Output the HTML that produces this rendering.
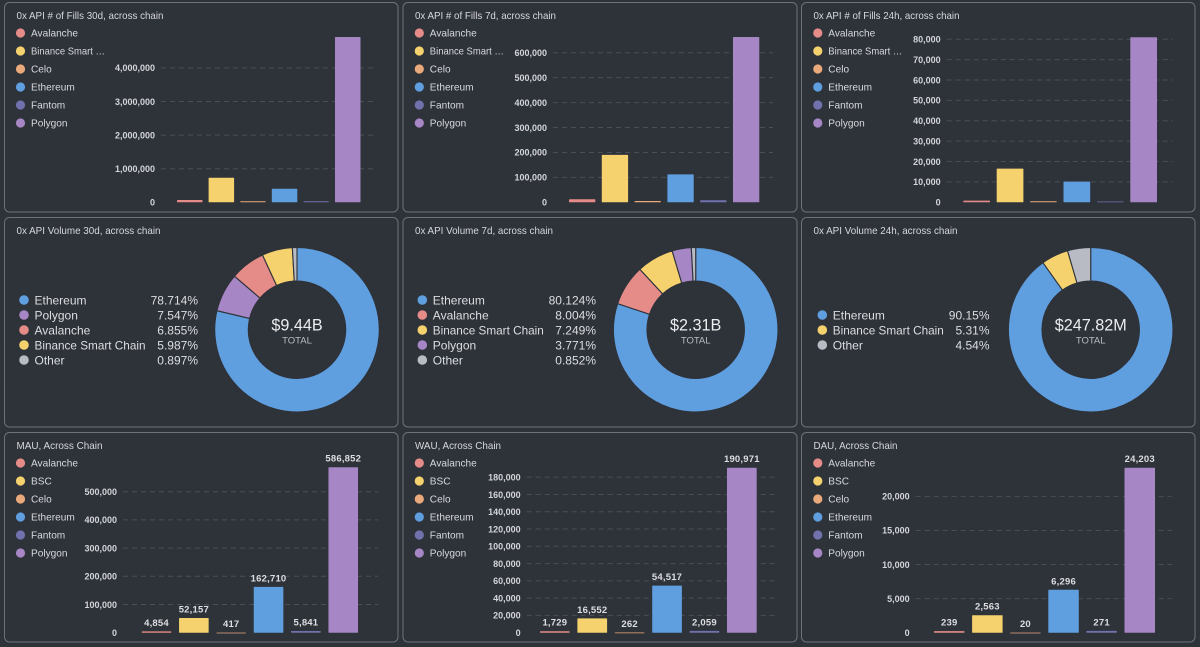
<!DOCTYPE html>
<html lang="en">
<head>
<meta charset="utf-8">
<title>0x API dashboard</title>
<style>
html,body{margin:0;padding:0;background:#2e3239;}
body{width:1200px;height:647px;overflow:hidden;}
svg{display:block;font-family:"Liberation Sans",sans-serif;}
</style>
</head>
<body>
<svg id="dash" xmlns="http://www.w3.org/2000/svg" width="1200" height="647" viewBox="0 0 1200 647"></svg>
<script>
// ---------- data ----------
const fillsCategories = ['Avalanche', 'Binance Smart …', 'Celo', 'Ethereum', 'Fantom', 'Polygon'];
const usersCategories = ['Avalanche', 'BSC', 'Celo', 'Ethereum', 'Fantom', 'Polygon'];

const fills30dValues = [70000, 730000, 30000, 405000, 30000, 4920000];
const fills30dTicks = [0, 1000000, 2000000, 3000000, 4000000];

const fills7dValues = [12000, 190000, 5000, 112000, 8000, 663000];
const fills7dTicks = [0, 100000, 200000, 300000, 400000, 500000, 600000];

const fills24hValues = [800, 16500, 500, 10150, 400, 81000];
const fills24hTicks = [0, 10000, 20000, 30000, 40000, 50000, 60000, 70000, 80000];

const mauValues = [4854, 52157, 417, 162710, 5841, 586852];
const mauTicks = [0, 100000, 200000, 300000, 400000, 500000];

const wauValues = [1729, 16552, 262, 54517, 2059, 190971];
const wauTicks = [0, 20000, 40000, 60000, 80000, 100000, 120000, 140000, 160000, 180000];

const dauValues = [239, 2563, 20, 6296, 271, 24203];
const dauTicks = [0, 5000, 10000, 15000, 20000];

const vol30dNames = ['Ethereum', 'Polygon', 'Avalanche', 'Binance Smart Chain', 'Other'];
const vol30dShares = [78.714, 7.547, 6.855, 5.987, 0.897];
const vol30dLabels = ['78.714%', '7.547%', '6.855%', '5.987%', '0.897%'];
const vol30dTotal = '$9.44B';

const vol7dNames = ['Ethereum', 'Avalanche', 'Binance Smart Chain', 'Polygon', 'Other'];
const vol7dShares = [80.124, 8.004, 7.249, 3.771, 0.852];
const vol7dLabels = ['80.124%', '8.004%', '7.249%', '3.771%', '0.852%'];
const vol7dTotal = '$2.31B';

const vol24hNames = ['Ethereum', 'Binance Smart Chain', 'Other'];
const vol24hShares = [90.15, 5.31, 4.54];
const vol24hLabels = ['90.15%', '5.31%', '4.54%'];
const vol24hTotal = '$247.82M';

// ---------- styling ----------
const chainColors = {
  'Avalanche': '#e58c89', 'Binance Smart …': '#f6d26f', 'Binance Smart Chain': '#f6d26f', 'BSC': '#f6d26f',
  'Celo': '#e9a97a', 'Ethereum': '#5f9fe0', 'Fantom': '#7172ad', 'Polygon': '#a686c4', 'Other': '#b8bbc3'
};
const BG = '#2e3239';
const svg = document.getElementById('dash');
const NS = 'http://www.w3.org/2000/svg';

function make(tag, parent, attrs, text) {
  const el = document.createElementNS(NS, tag);
  for (const k in attrs) el.setAttribute(k, attrs[k]);
  if (text !== undefined) el.textContent = text;
  parent.appendChild(el);
  return el;
}
function slug(s) {
  return s.toLowerCase().replace(/[^a-z0-9]+/g, '-').replace(/^-|-$/g, '');
}
function drawPanel(key, x, y, w, h, title, titleW) {
  const g = make('g', svg, {});
  
  
  const box = make('rect', g, {x: x, y: y, width: w, height: h, rx: 5, fill: BG, stroke: '#6d727a', 'stroke-width': 1});
  
  
  const t = make('text', g, {x: x + 12, y: y + 16.5, 'font-size': 10.5, fill: '#d6d8db', textLength: titleW, lengthAdjust: 'spacingAndGlyphs'}, title);
  
  
  return g;
}

function drawBarChart(g, opt) {
  const n = opt.categories.length;
  const yScale = v => opt.baseY - v * opt.unit;
  const xScale = i => opt.barX0 + i * opt.band;

  opt.categories.forEach((name, i) => {
    const item = make('g', g, {});
    
    
    make('circle', item, {cx: opt.legendX, cy: opt.legendY + i * 18, r: 4.6, fill: chainColors[name]});
    const label = make('text', item, {x: opt.legendX + 10.5, y: opt.legendY + i * 18 + 3.7, 'font-size': 10.1, fill: '#d8dadd'}, name);
    if (name === 'Binance Smart …') {
      label.setAttribute('textLength', 74);
      label.setAttribute('lengthAdjust', 'spacingAndGlyphs');
    }
  });

  opt.ticks.forEach(v => {
    const y = yScale(v);
    if (v !== 0) {
      const line = make('line', g, {x1: opt.gridX0, x2: opt.gridX1, y1: y, y2: y, stroke: '#4a4e56', 'stroke-width': 1, 'stroke-dasharray': '5 4'});
      
      
    }
    const lab = make('text', g, {x: opt.gridX0 - 6, y: y + 3.3, 'font-size': 9, 'font-weight': 'bold', fill: '#d3d5d9', 'text-anchor': 'end'}, v.toLocaleString('en-US'));
    
    
  });

  for (let i = 0; i < n; i++) {
    const v = opt.values[i];
    const top = yScale(v);
    const bar = make('rect', g, {x: xScale(i), y: top, width: opt.barW, height: Math.max(opt.baseY - top, 0.8), fill: chainColors[opt.categories[i]], rx: 0.6});
    
    
    if (opt.showValues) {
      const lab = make('text', g, {x: xScale(i) + opt.barW / 2, y: top - 5.5, 'font-size': 9.5, 'font-weight': 'bold', 'letter-spacing': 0.2, fill: '#dcdee1', 'text-anchor': 'middle'}, v.toLocaleString('en-US'));
      
      
    }
  }
}

function arcPath(cx, cy, r0, r1, a0, a1) {
  const p = (r, a) => (cx + r * Math.sin(a)).toFixed(2) + ' ' + (cy - r * Math.cos(a)).toFixed(2);
  const large = a1 - a0 > Math.PI ? 1 : 0;
  return 'M' + p(r1, a0) + ' A' + r1 + ' ' + r1 + ' 0 ' + large + ' 1 ' + p(r1, a1) +
         ' L' + p(r0, a1) + ' A' + r0 + ' ' + r0 + ' 0 ' + large + ' 0 ' + p(r0, a0) + ' Z';
}

function drawDonut(g, opt) {
  const sum = opt.shares.reduce((a, b) => a + b, 0);
  let acc = 0;
  opt.shares.forEach((s, i) => {
    const a0 = acc / sum * Math.PI * 2;
    acc += s;
    const a1 = acc / sum * Math.PI * 2;
    const seg = make('path', g, {d: arcPath(opt.cx, opt.cy, 48.7, 82.3, a0, a1), fill: chainColors[opt.names[i]], stroke: BG, 'stroke-width': 1.1});
    
    
  });
  opt.names.forEach((name, i) => {
    const y = opt.legendY + i * 15;
    const item = make('g', g, {});
    
    
    make('circle', item, {cx: opt.legendX, cy: y, r: 4.8, fill: chainColors[name]});
    const label = make('text', item, {x: opt.legendX + 10.5, y: y + 4.3, 'font-size': 12, fill: '#dcdee1'}, name);
    if (name === 'Binance Smart Chain') {
      label.setAttribute('textLength', 111);
      label.setAttribute('lengthAdjust', 'spacingAndGlyphs');
    }
    make('text', item, {x: opt.pctX, y: y + 4.3, 'font-size': 12, fill: '#dcdee1', 'text-anchor': 'end'}, opt.labels[i]);
  });
  const total = make('text', g, {x: opt.cx, y: opt.cy + 0.8, 'font-size': 16.2, fill: '#eceef0', 'text-anchor': 'middle'}, opt.total);
  
  
  const cap = make('text', g, {x: opt.cx, y: opt.cy + 14, 'font-size': 9.5, fill: '#b9bcc2', 'text-anchor': 'middle'}, 'TOTAL');
  
  
}

// ---------- layout ----------
const colX = [4.5, 403, 801.5];
const colW = [393.5, 394, 393.5];
const rowY = [2.5, 217.5, 432.5];
const rowH = 209.5;

let g;
g = drawPanel('fills-30d', colX[0], rowY[0], colW[0], rowH, '0x API # of Fills 30d, across chain', 147);
drawBarChart(g, {categories: fillsCategories, values: fills30dValues, ticks: fills30dTicks, unit: 33.6 / 1000000, baseY: 202.3,
  gridX0: 161, gridX1: 375, barX0: 177, band: 31.6, barW: 25.5, legendX: 20.5, legendY: 33});

g = drawPanel('fills-7d', colX[1], rowY[0], colW[1], rowH, '0x API # of Fills 7d, across chain', 141);
drawBarChart(g, {categories: fillsCategories, values: fills7dValues, ticks: fills7dTicks, unit: 24.93 / 100000, baseY: 202.3,
  gridX0: 553, gridX1: 773, barX0: 569, band: 32.8, barW: 26.3, legendX: 419.3, legendY: 33});

g = drawPanel('fills-24h', colX[2], rowY[0], colW[2], rowH, '0x API # of Fills 24h, across chain', 146);
drawBarChart(g, {categories: fillsCategories, values: fills24hValues, ticks: fills24hTicks, unit: 20.38 / 10000, baseY: 202.3,
  gridX0: 946.7, gridX1: 1173, barX0: 963.3, band: 33.4, barW: 26.7, legendX: 817.8, legendY: 33});

g = drawPanel('volume-30d', colX[0], rowY[1], colW[0], rowH, '0x API Volume 30d, across chain', 144);
drawDonut(g, {names: vol30dNames, shares: vol30dShares, labels: vol30dLabels, total: vol30dTotal, cx: 297, cy: 329.7, legendX: 24, legendY: 300, pctX: 198});

g = drawPanel('volume-7d', colX[1], rowY[1], colW[1], rowH, '0x API Volume 7d, across chain', 138);
drawDonut(g, {names: vol7dNames, shares: vol7dShares, labels: vol7dLabels, total: vol7dTotal, cx: 695.7, cy: 329.7, legendX: 422.3, legendY: 300, pctX: 596});

g = drawPanel('volume-24h', colX[2], rowY[1], colW[2], rowH, '0x API Volume 24h, across chain', 144);
drawDonut(g, {names: vol24hNames, shares: vol24hShares, labels: vol24hLabels, total: vol24hTotal, cx: 1090.7, cy: 329.7, legendX: 822.3, legendY: 315, pctX: 989.5});

g = drawPanel('mau', colX[0], rowY[2], colW[0], rowH, 'MAU, Across Chain', 86);
drawBarChart(g, {categories: usersCategories, values: mauValues, ticks: mauTicks, unit: 28.2 / 100000, baseY: 632.7, showValues: true,
  gridX0: 123, gridX1: 378, barX0: 141.7, band: 37.35, barW: 29.6, legendX: 20.5, legendY: 463});

g = drawPanel('wau', colX[1], rowY[2], colW[1], rowH, 'WAU, Across Chain', 86);
drawBarChart(g, {categories: usersCategories, values: wauValues, ticks: wauTicks, unit: 165 / 190971, baseY: 632.7, showValues: true,
  gridX0: 526.7, gridX1: 776.7, barX0: 540, band: 37.4, barW: 29.7, legendX: 419.3, legendY: 463});

g = drawPanel('dau', colX[2], rowY[2], colW[2], rowH, 'DAU, Across Chain', 84);
drawBarChart(g, {categories: usersCategories, values: dauValues, ticks: dauTicks, unit: 165 / 24203, baseY: 632.7, showValues: true,
  gridX0: 915.7, gridX1: 1171.7, barX0: 934, band: 38.1, barW: 30.5, legendX: 817.8, legendY: 463});
</script>
</body>
</html>
